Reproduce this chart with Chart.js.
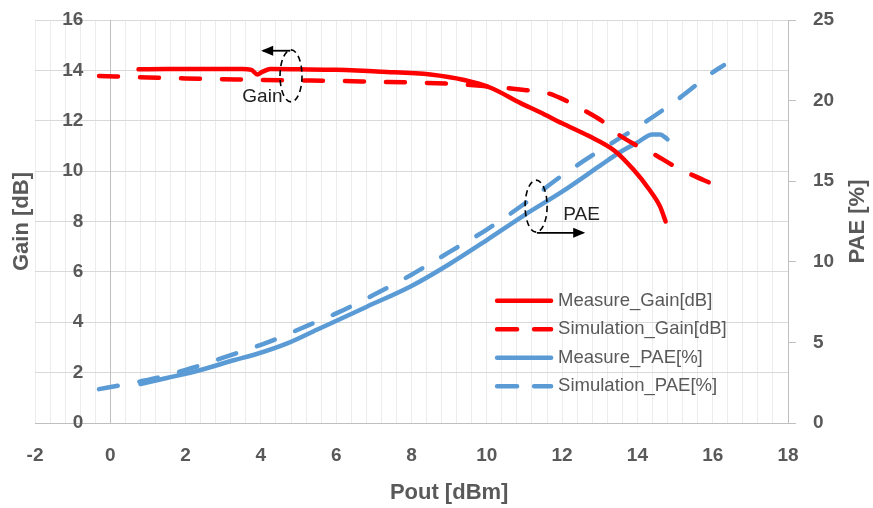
<!DOCTYPE html>
<html>
<head>
<meta charset="utf-8">
<script src="https://cdn.jsdelivr.net/npm/chart.js@4.4.1/dist/chart.umd.min.js"></script>
<style>
	html, body { margin: 0; padding: 0; background: #fff; }
	#wrap { width: 873px; height: 508px; }
</style>
</head>
<body>
<div id="wrap"><canvas id="chart"></canvas></div>
<script>
// measured / simulated gain [dB] vs Pout [dBm]
let gainMeasX = [0.75, 1.5, 2.5, 3.5, 3.75, 3.9, 4.05, 4.25, 5, 6, 7.2, 8.5, 9.4, 10.1, 10.9, 11.4, 12, 12.7, 13.4, 13.9, 14.3, 14.6, 14.75];
let gainMeasY = [14.04, 14.05, 14.05, 14.05, 14.02, 13.84, 13.95, 14.05, 14.04, 14.02, 13.95, 13.84, 13.62, 13.31, 12.7, 12.35, 11.9, 11.4, 10.8, 10.05, 9.3, 8.6, 8.0];
let gainSimX = [-0.3, 1, 2, 3, 4, 5, 6, 7, 8, 9, 10, 11, 11.6, 12.1, 12.6, 13.1, 13.5, 14, 14.5, 15, 15.45, 15.95];
let gainSimY = [13.78, 13.72, 13.68, 13.65, 13.62, 13.6, 13.58, 13.55, 13.52, 13.47, 13.37, 13.22, 13.1, 12.8, 12.4, 11.95, 11.45, 11.0, 10.62, 10.18, 9.85, 9.52];

// measured / simulated PAE [%] vs Pout [dBm]
let paeMeasX = [0.8, 1.5, 2.4, 3.3, 3.8, 4.7, 5.5, 6.8, 8, 9, 10, 11, 12, 13, 13.5, 14, 14.4, 14.6, 14.8];
let paeMeasY = [2.42, 2.79, 3.29, 3.91, 4.22, 4.94, 5.8, 7.2, 8.5, 9.85, 11.35, 12.9, 14.35, 15.95, 16.75, 17.4, 17.9, 17.9, 17.6];
let paeSimX = [-0.3, 0.3, 0.8, 1.5, 2, 2.5, 3, 3.5, 4, 4.5, 5, 5.5, 6, 7, 8, 9, 10, 11, 12, 13, 14, 15, 16, 16.3];
let paeSimY = [2.1, 2.35, 2.58, 2.95, 3.3, 3.65, 4.05, 4.45, 4.85, 5.3, 5.8, 6.3, 6.8, 7.95, 9.2, 10.6, 12.0, 13.6, 15.35, 16.9, 18.35, 19.95, 21.75, 22.2];

// axis ranges and labels
let xRange = [-2, 18];
let gainRange = [0, 16];
let paeRange = [0, 25];
let seriesNames = ['Measure_Gain[dB]', 'Simulation_Gain[dB]', 'Measure_PAE[%]', 'Simulation_PAE[%]'];
let axisTitles = { x: 'Pout [dBm]', gain: 'Gain [dB]', pae: 'PAE [%]' };

let red = '#ff0000';
let blue = '#5b9bd5';
let gray = '#595959';
let dash = [19, 22];
let font = '"Liberation Sans", Arial, sans-serif';

let toPoints = (xs, ys) => xs.map((x, i) => ({ x: x, y: ys[i] }));

let makeSet = (label, xs, ys, color, dashed, axis) => ({
	label: label,
	data: toPoints(xs, ys),
	borderColor: color,
	backgroundColor: color,
	borderWidth: 4.5,
	borderDash: dashed ? dash : [],
	borderCapStyle: 'round',
	pointRadius: 0,
	cubicInterpolationMode: 'monotone',
	yAxisID: axis,
});

// no extra room above / below the vertical axes
let noPad = (scale) => {
	scale.paddingTop = 0;
	scale.paddingBottom = 0;
};

// dashed ellipse with an arrow, positioned in data coordinates
let drawMarker = (ctx, cx, cy, arrowFrom, arrowTo, arrowY) => {
	ctx.save();
	ctx.strokeStyle = '#000';
	ctx.lineWidth = 1.6;
	ctx.setLineDash([6, 4]);
	ctx.beginPath();
	ctx.ellipse(cx, cy, 11, 26, 0, 0, Math.PI * 2);
	ctx.stroke();
	ctx.setLineDash([]);
	ctx.lineWidth = 1.8;
	ctx.beginPath();
	ctx.moveTo(arrowFrom, arrowY);
	ctx.lineTo(arrowTo, arrowY);
	ctx.stroke();
	let dir = arrowTo > arrowFrom ? 1 : -1;
	ctx.beginPath();
	ctx.moveTo(arrowTo + dir * 2, arrowY);
	ctx.lineTo(arrowTo - dir * 10, arrowY - 5);
	ctx.lineTo(arrowTo - dir * 10, arrowY + 5);
	ctx.closePath();
	ctx.fillStyle = '#000';
	ctx.fill();
	ctx.restore();
};

let extras = {
	id: 'extras',
	afterDraw (chart) {
		let { ctx, chartArea, scales: { x, y } } = chart;
		ctx.save();

		// gain tick labels, left of the axis that crosses at x = 0
		ctx.fillStyle = gray;
		ctx.font = 'bold 19px ' + font;
		ctx.textAlign = 'right';
		ctx.textBaseline = 'middle';
		let axisX = x.getPixelForValue(0);
		y.ticks.forEach((t) => {
			ctx.fillText(String(t.value), axisX - 27, y.getPixelForValue(t.value));
		});

		// axis titles
		ctx.font = 'bold 22px ' + font;
		ctx.textAlign = 'center';
		ctx.fillText(axisTitles.x, x.getPixelForValue(9), 493);
		let midY = (chartArea.top + chartArea.bottom) / 2;
		[[22, axisTitles.gain], [858, axisTitles.pae]].forEach(([tx, text]) => {
			ctx.save();
			ctx.translate(tx, midY);
			ctx.rotate(-Math.PI / 2);
			ctx.fillText(text, 0, 0);
			ctx.restore();
		});

		// legend
		let lx = x.getPixelForValue(10.22);
		let ly = y.getPixelForValue(4.85);
		ctx.font = '18.5px ' + font;
		ctx.textAlign = 'left';
		chart.data.datasets.forEach((ds, i) => {
			let rowY = ly + i * 28.5;
			ctx.save();
			ctx.strokeStyle = ds.borderColor;
			ctx.lineWidth = 4.5;
			ctx.lineCap = 'round';
			ctx.setLineDash(ds.borderDash.length ? [20, 17] : []);
			ctx.beginPath();
			ctx.moveTo(lx + 2, rowY);
			ctx.lineTo(lx + 56, rowY);
			ctx.stroke();
			ctx.restore();
			ctx.fillStyle = gray;
			ctx.fillText(ds.label, lx + 63, rowY);
		});

		// gain / PAE markers
		drawMarker(ctx, x.getPixelForValue(4.8), y.getPixelForValue(13.78), x.getPixelForValue(4.78), x.getPixelForValue(4.06), y.getPixelForValue(14.78));
		drawMarker(ctx, x.getPixelForValue(11.31), y.getPixelForValue(8.61), x.getPixelForValue(11.33), x.getPixelForValue(12.56), y.getPixelForValue(7.55));
		ctx.fillStyle = '#222';
		ctx.font = '19px ' + font;
		ctx.textAlign = 'center';
		ctx.fillText('Gain', x.getPixelForValue(4.04), y.getPixelForValue(12.94));
		ctx.textAlign = 'left';
		ctx.fillText('PAE', x.getPixelForValue(12.03), y.getPixelForValue(8.26));

		ctx.restore();
	},
};

let tickFont = { family: font, size: 19, weight: 'bold' };

new Chart(document.getElementById('chart'), {
	type: 'line',
	data: {
		datasets: [
			makeSet(seriesNames[0], gainMeasX, gainMeasY, red, false, 'y'),
			makeSet(seriesNames[1], gainSimX, gainSimY, red, true, 'y'),
			makeSet(seriesNames[2], paeMeasX, paeMeasY, blue, false, 'y1'),
			makeSet(seriesNames[3], paeSimX, paeSimY, blue, true, 'y1'),
		],
	},
	options: {
		responsive: true,
		maintainAspectRatio: false,
		animation: false,
		layout: { padding: { left: 35, top: 20, right: 0, bottom: 0 } },
		plugins: {
			legend: { display: false },
			tooltip: { enabled: false },
		},
		scales: {
			x: {
				type: 'linear',
				min: xRange[0],
				max: xRange[1],
				grid: { color: '#ececec', drawTicks: false },
				border: { color: '#bfbfbf' },
				ticks: {
					stepSize: 0.4,
					autoSkip: false,
					maxRotation: 0,
					padding: 21,
					color: gray,
					font: tickFont,
					callback: (v) => {
						let r = Math.round(v);
						return (Math.abs(v - r) < 1e-6 && r % 2 === 0) ? String(r) : '';
					},
				},
				afterFit: (scale) => { scale.height = 85; },
			},
			y: {
				type: 'linear',
				position: { x: 0 },
				min: gainRange[0],
				max: gainRange[1],
				grid: { color: '#d9d9d9', drawTicks: false },
				border: { color: '#bfbfbf' },
				ticks: { stepSize: 2, display: false },
				afterFit: noPad,
			},
			y1: {
				type: 'linear',
				position: 'right',
				min: paeRange[0],
				max: paeRange[1],
				grid: { drawOnChartArea: false, tickLength: 8, color: '#bfbfbf' },
				border: { color: '#bfbfbf' },
				ticks: { stepSize: 5, padding: 17, color: gray, font: tickFont },
				afterFit: (scale) => { scale.width = 85; noPad(scale); },
			},
		},
	},
	plugins: [ extras ],
});
</script>
</body>
</html>
